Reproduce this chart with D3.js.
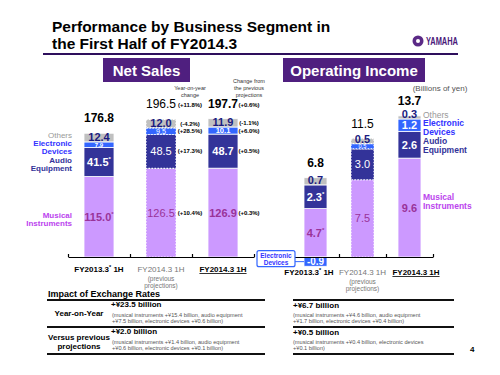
<!DOCTYPE html>
<html>
<head>
<meta charset="utf-8">
<script src="https://cdn.jsdelivr.net/npm/d3@7"></script>
<style>
  body { margin: 0; background: #fff; }
  text { font-family: "Liberation Sans", Arial, sans-serif; }
</style>
</head>
<body>
<svg id="chart" width="500" height="375"></svg>
<script>
// ---- data ----
const categories = ["FY2013.3* 1H", "FY2014.3 1H", "FY2014.3 1H"];
const segments = ["musical", "audio", "electronic", "others"];
const restated = [true, false, false];

const salesMusical = [115.0, 126.5, 126.9];
const salesAudio = [41.5, 48.5, 48.7];
const salesElectronic = [7.9, 9.5, 10.1];
const salesOthers = [12.4, 12.0, 11.9];
const salesTotal = [176.8, 196.5, 197.7];

const oiMusical = [4.7, 7.5, 9.6];
const oiAudio = [2.3, 3.0, 2.6];
const oiElectronic = [-0.9, 0.5, 1.2];
const oiOthers = [0.7, 0.5, 0.3];
const oiTotal = [6.8, 11.5, 13.7];

// percentages in segment order: musical, audio, electronic, others
const yoyPct = ["(+10.4%)", "(+17.3%)", "(+28.5%)", "(-4.2%)"];
const yoyTotalPct = "(+11.8%)";
const projPct = ["(+0.3%)", "(+0.5%)", "(+6.0%)", "(-1.1%)"];
const projTotalPct = "(+0.6%)";

const colors = { musical: "#cc99ff", audio: "#333399", electronic: "#3366ff", others: "#c0c0c0" };

const svg = d3.select("#chart");

// ---- title ----
svg.append("text").attr("x", 52).attr("y", 32)
  .attr("font-size", 15.5).attr("font-weight", "bold").text("Performance by Business Segment in");
svg.append("text").attr("x", 52).attr("y", 49)
  .attr("font-size", 15.5).attr("font-weight", "bold").text("the First Half of FY2014.3");
svg.append("rect").attr("x", 43).attr("y", 53).attr("width", 415).attr("height", 2).attr("fill", "#2e0f5c");

// logo
const logo = svg.append("g").attr("transform", "translate(418,41)");
logo.append("circle").attr("r", 5.5).attr("fill", "#5b2a86");
logo.append("circle").attr("r", 2).attr("fill", "#fff");
logo.append("text").attr("x", 8).attr("y", 4).attr("font-size", 10.5).attr("font-weight", "bold")
  .attr("fill", "#4a1a7a").attr("textLength", 32).attr("lengthAdjust", "spacingAndGlyphs").text("YAMAHA");

// header boxes
function header(x, w, label) {
  svg.append("rect").attr("x", x).attr("y", 58).attr("width", w).attr("height", 24).attr("fill", "#4f1f7f");
  svg.append("text").attr("x", x + w / 2).attr("y", 76).attr("text-anchor", "middle")
    .attr("font-size", 15).attr("font-weight", "bold").attr("fill", "#fff").text(label);
}
header(103, 87, "Net Sales");
header(283, 142, "Operating Income");

svg.append("text").attr("x", 440).attr("y", 91).attr("text-anchor", "middle")
  .attr("font-size", 8).attr("fill", "#555").text("(Billions of yen)");

// ---- panel drawing ----
function drawPanel(o) {
  const rows = categories.map((c, i) => ({
    musical: o.musical[i], audio: o.audio[i], electronic: o.electronic[i], others: o.others[i]
  }));
  const series = d3.stack().keys(segments).offset(d3.stackOffsetDiverging)(rows);

  const x = d3.scaleBand().domain(d3.range(categories.length)).range(o.xRange);
  const y = d3.scaleLinear().domain(o.yDomain).range(o.yRange);
  const off = (x.bandwidth() - o.barWidth) / 2;
  const g = svg.append("g");

  // bars
  series.forEach(s => {
    g.selectAll(null).data(s).enter().append("rect")
      .attr("x", (d, i) => x(i) + off)
      .attr("y", d => y(d[1]))
      .attr("width", o.barWidth)
      .attr("height", d => y(d[0]) - y(d[1]))
      .attr("fill", colors[s.key])
      .attr("stroke", "#fff")
      .attr("stroke-width", (d, i) => i === 1 ? 1.2 : 0.8)
      .attr("stroke-dasharray", (d, i) => i === 1 ? "1.5,1.5" : null);
  });

  // segment values
  series.forEach(s => {
    s.forEach((d, i) => {
      const v = o[s.key][i];
      const cx = x(i) + x.bandwidth() / 2;
      const top = y(d[1]), bot = y(d[0]);
      const h = bot - top;
      const mid = (top + bot) / 2;
      const t = g.append("text").attr("x", cx).attr("text-anchor", "middle");
      if (s.key === "others") {
        t.attr("y", bot - 1).attr("font-size", 11).attr("font-weight", "bold").attr("fill", "#1a1a80");
      } else if (s.key === "electronic") {
        const fs = v < 0 ? 10 : Math.min(11, h + 0.5);
        t.attr("y", mid + fs * 0.36).attr("font-size", fs).attr("font-weight", v < 0 || i !== 1 ? "bold" : "normal")
          .attr("fill", "#fff");
      } else {
        t.attr("y", mid + 4).attr("font-size", 11).attr("font-weight", i === 1 ? "normal" : "bold")
          .attr("fill", s.key === "musical" ? "#993399" : "#fff");
      }
      t.text(v.toFixed(1));
      if (restated[i] && (s.key === "musical" || s.key === "audio")) {
        t.append("tspan").attr("font-size", 6).attr("dy", -5).text("*");
      }
    });
  });

  // totals
  const topOf = i => y(d3.max(series, s => s[i][1]));
  o.total.forEach((v, i) => {
    g.append("text").attr("x", x(i) + x.bandwidth() / 2).attr("y", topOf(i) - 11)
      .attr("text-anchor", "middle").attr("font-size", 12)
      .attr("font-weight", i === 1 ? "normal" : "bold").text(v.toFixed(1));
  });

  // axis with ticks at band edges
  const xl = d3.scaleLinear().domain([0, categories.length]).range(o.xRange);
  g.append("g").attr("transform", `translate(0,${y(0)})`)
    .call(d3.axisBottom(xl).tickValues(d3.range(categories.length + 1)).tickSizeInner(-3).tickSizeOuter(0).tickFormat(""))
    .call(a => a.selectAll("path,line").attr("stroke", "#000").attr("stroke-width", 1.2));

  // category labels
  categories.forEach((c, i) => {
    const cx = x(i) + x.bandwidth() / 2 + (i - 1) * o.labelSpread;
    const t = g.append("text").attr("x", cx).attr("y", o.labelY).attr("text-anchor", "middle")
      .attr("font-size", 8).attr("font-weight", i === 1 ? "normal" : "bold").attr("fill", i === 1 ? "#777" : "#000");
    if (i === 2) t.attr("text-decoration", "underline");
    const parts = c.split("*");
    t.append("tspan").text(parts[0]);
    if (parts.length > 1) {
      t.append("tspan").attr("font-size", 5.5).attr("dy", -3).text("*");
      t.append("tspan").attr("dy", 3).text(parts[1]);
    }
    if (i === 1) {
      ["(previous", "projections)"].forEach((s, k) => {
        g.append("text").attr("x", cx).attr("y", o.labelY + 9 + k * 7).attr("text-anchor", "middle")
          .attr("font-size", 6.5).attr("fill", "#777").text(s);
      });
    }
  });

  return { x, y, series, topOf };
}

// ---- net sales ----
const ns = drawPanel({
  musical: salesMusical, audio: salesAudio, electronic: salesElectronic, others: salesOthers, total: salesTotal,
  xRange: [68, 254], yDomain: [0, 200], yRange: [257, 117], barWidth: 30, labelY: 272, labelSpread: 0
});

// segment names on the left of the first bar
const segNames = {
  musical: ["Musical", "Instruments"], audio: ["Audio", "Equipment"],
  electronic: ["Electronic", "Devices"], others: ["Others"]
};
const nameColors = { musical: "#bb44ee", audio: "#333399", electronic: "#3333ff", others: "#999" };

ns.series.forEach(s => {
  const d = s[0];
  const mid = (ns.y(d[0]) + ns.y(d[1])) / 2;
  const shift = s.key === "others" ? 0 : 1;
  segNames[s.key].forEach((line, k) => {
    svg.append("text").attr("x", 72).attr("y", mid + shift + k * 8.3).attr("text-anchor", "end")
      .attr("font-size", 8).attr("font-weight", s.key === "others" ? "normal" : "bold")
      .attr("fill", nameColors[s.key]).text(line);
  });
});

// percentage annotations
function pctColumn(barIndex, cx, pcts, totalPct, heading, headY) {
  ns.series.forEach((s, k) => {
    const d = s[barIndex];
    const mid = (ns.y(d[0]) + ns.y(d[1])) / 2;
    svg.append("text").attr("x", cx).attr("y", mid + 2).attr("text-anchor", "middle")
      .attr("font-size", 6).attr("font-weight", "bold").text(pcts[k]);
  });
  svg.append("text").attr("x", cx).attr("y", ns.topOf(barIndex) - 12).attr("text-anchor", "middle")
    .attr("font-size", 6).attr("font-weight", "bold").text(totalPct);
  heading.forEach((h, k) => {
    svg.append("text").attr("x", cx).attr("y", headY + k * 7).attr("text-anchor", "middle")
      .attr("font-size", 5.5).attr("fill", "#333").text(h);
  });
}
pctColumn(1, 190, yoyPct, yoyTotalPct, ["Year-on-year", "change"], 90);
pctColumn(2, 249, projPct, projTotalPct, ["Change from", "the previous", "projections"], 83);

// ---- operating income ----
const oi = drawPanel({
  musical: oiMusical, audio: oiAudio, electronic: oiElectronic, others: oiOthers, total: oiTotal,
  xRange: [292, 433], yDomain: [0, 14], yRange: [257, 112.8], barWidth: 23, labelY: 275, labelSpread: 6.5
});

// segment names on the right of the last bar
oi.series.forEach(s => {
  const d = s[2];
  const mid = (oi.y(d[0]) + oi.y(d[1])) / 2;
  const shift = s.key === "musical" ? -8 : (s.key === "audio" ? -1 : 1);
  segNames[s.key].forEach((line, k) => {
    svg.append("text").attr("x", 423).attr("y", mid + shift + k * 9).attr("text-anchor", "start")
      .attr("font-size", 8.5).attr("font-weight", s.key === "others" ? "normal" : "bold")
      .attr("fill", nameColors[s.key]).text(line);
  });
});

// callout for negative electronic devices
{
  const eSeries = oi.series.find(s => s.key === "electronic");
  const d = eSeries[0];
  const mid = (oi.y(d[0]) + oi.y(d[1])) / 2;
  const bx = oi.x(0) + (oi.x.bandwidth() - 23) / 2;
  const box = svg.append("g");
  box.append("line").attr("x1", bx - 10).attr("x2", bx).attr("y1", mid).attr("y2", mid)
    .attr("stroke", "#3366ff").attr("stroke-width", 1);
  box.append("rect").attr("x", bx - 47).attr("y", mid - 11).attr("width", 38).attr("height", 16).attr("rx", 2)
    .attr("fill", "#fff").attr("stroke", "#3366ff").attr("stroke-width", 1.2);
  ["Electronic", "Devices"].forEach((l, k) => {
    box.append("text").attr("x", bx - 28).attr("y", mid - 4 + k * 7.5).attr("text-anchor", "middle")
      .attr("font-size", 6.5).attr("font-weight", "bold").attr("fill", "#3333ff").text(l);
  });
}

// ---- exchange rate table ----
svg.append("text").attr("x", 48).attr("y", 297).attr("font-size", 9).attr("font-weight", "bold")
  .text("Impact of Exchange Rates");

const rowLabels = [["Year-on-Year"], ["Versus previous", "projections"]];
const salesImpact = ["+¥23.5 billion", "+¥2.0 billion"];
const salesImpactNote = [
  ["(musical instruments +¥15.4 billion, audio equipment", "+¥7.5 billion, electronic devices +¥0.6 billion)"],
  ["(musical instruments +¥1.4 billion, audio equipment", "+¥0.6 billion, electronic devices +¥0.1 billion)"]
];
const oiImpact = ["+¥6.7 billion", "+¥0.5 billion"];
const oiImpactNote = [
  ["(musical instruments +¥4.6 billion, audio equipment", "+¥1.7 billion, electronic devices +¥0.4 billion)"],
  ["(musical instruments +¥0.4 billion, electronic devices", "+¥0.1 billion)"]
];

const rowTop = [300, 327];
[[47, 265], [293, 454]].forEach(([x0, x1]) => {
  [300, 327, 354].forEach(yy => {
    svg.append("rect").attr("x", x0).attr("y", yy - 1).attr("width", x1 - x0).attr("height", 2).attr("fill", "#111");
  });
});

rowTop.forEach((top, r) => {
  const lab = rowLabels[r];
  lab.forEach((l, k) => {
    svg.append("text").attr("x", 79).attr("y", top + (lab.length === 1 ? 16 : 13 + k * 9))
      .attr("text-anchor", "middle").attr("font-size", 8).attr("font-weight", "bold").text(l);
  });
  svg.append("text").attr("x", 111).attr("y", top + 7).attr("font-size", 8).attr("font-weight", "bold").text(salesImpact[r]);
  salesImpactNote[r].forEach((l, k) => {
    svg.append("text").attr("x", 112).attr("y", top + 17 + k * 6).attr("font-size", 5.6).attr("fill", "#555").text(l);
  });
  svg.append("text").attr("x", 293).attr("y", top + 8).attr("font-size", 8).attr("font-weight", "bold").text(oiImpact[r]);
  oiImpactNote[r].forEach((l, k) => {
    svg.append("text").attr("x", 293).attr("y", top + 17 + k * 6).attr("font-size", 5.6).attr("fill", "#555").text(l);
  });
});

svg.append("text").attr("x", 470).attr("y", 352).attr("font-size", 8).attr("font-weight", "bold").text("4");
</script>
</body>
</html>
